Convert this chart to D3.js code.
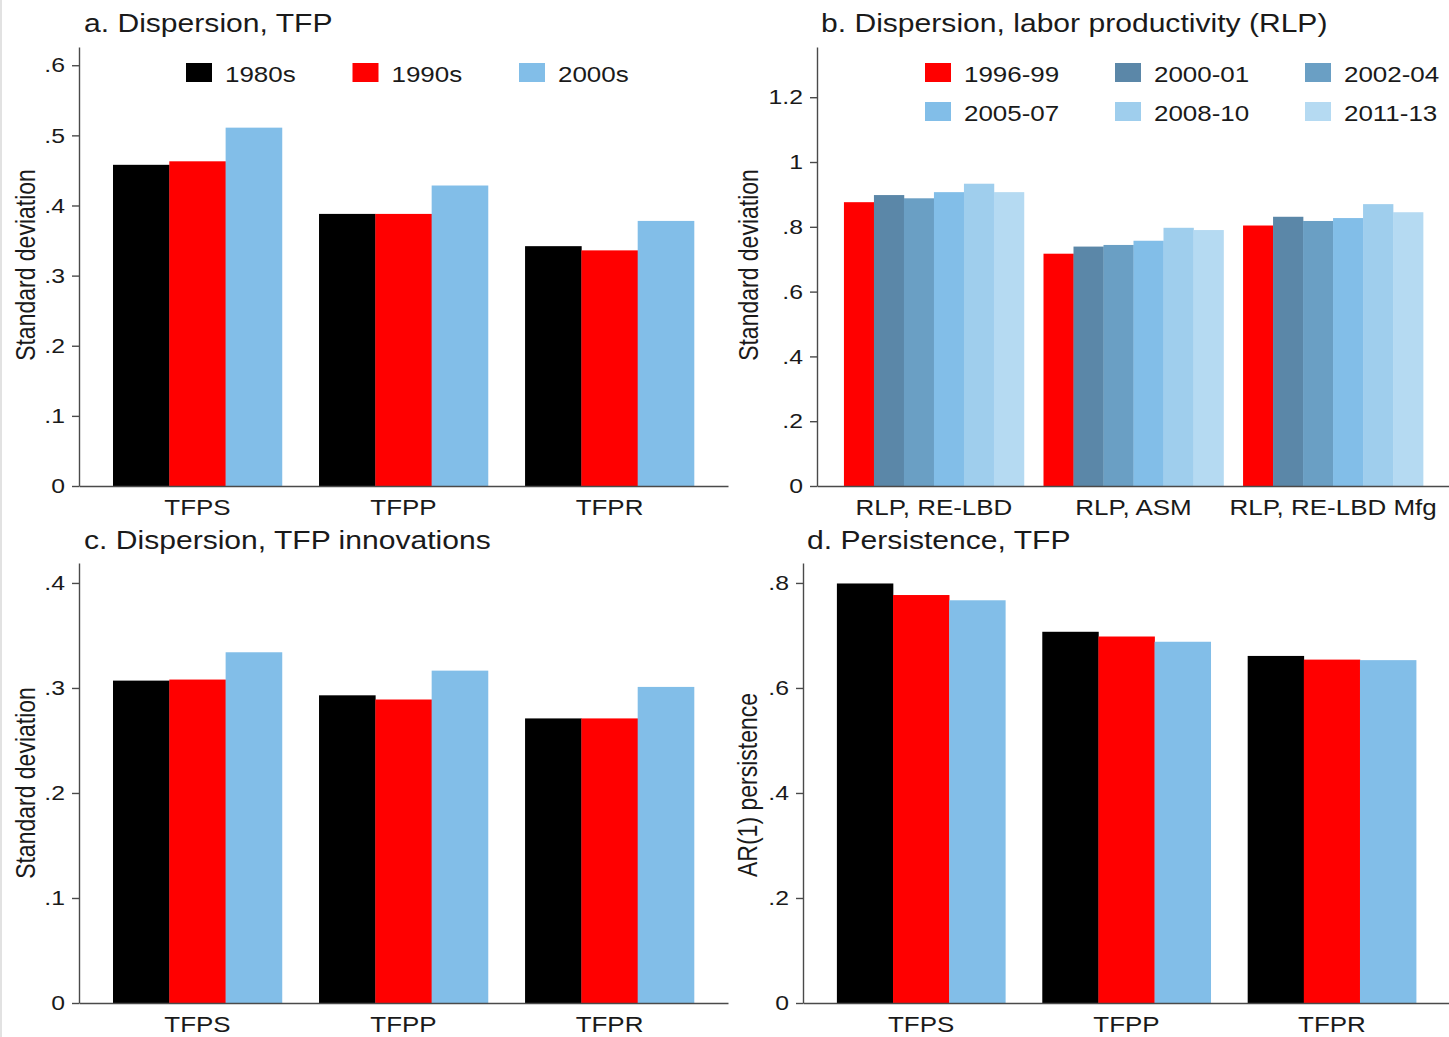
<!DOCTYPE html>
<html>
<head>
<meta charset="utf-8">
<script src="https://cdn.jsdelivr.net/npm/d3@7"></script>
<style>
  body { margin: 0; background: #fff; }
  svg { display: block; font-family: "Liberation Sans", Arial, sans-serif; }
  text { fill: #1a1a1a; }
</style>
</head>
<body>
<svg id="chart" width="1449" height="1037"></svg>
<script>
// categories and series
var tfpCats = ["TFPS", "TFPP", "TFPR"];
var decades = ["1980s", "1990s", "2000s"];
var decadeColors = ["#000000", "#ff0000", "#82bee8"];

var rlpCats = ["RLP, RE-LBD", "RLP, ASM", "RLP, RE-LBD Mfg"];
var periods = ["1996-99", "2000-01", "2002-04", "2005-07", "2008-10", "2011-13"];
var periodColors = ["#ff0000", "#5b87a8", "#6a9fc4", "#82bee8", "#9fceed", "#b5daf2"];

// values: one row per category, one entry per series
var dispersionTFP = [
  [0.458, 0.463, 0.511],
  [0.388, 0.388, 0.4285],
  [0.342, 0.336, 0.378]
];
var dispersionRLP = [
  [0.876, 0.898, 0.888, 0.907, 0.933, 0.907],
  [0.717, 0.739, 0.744, 0.757, 0.797, 0.790],
  [0.804, 0.831, 0.818, 0.827, 0.870, 0.845]
];
var dispersionInnov = [
  [0.307, 0.308, 0.334],
  [0.293, 0.289, 0.3165],
  [0.271, 0.271, 0.301]
];
var persistenceTFP = [
  [0.799, 0.777, 0.767],
  [0.707, 0.698, 0.688],
  [0.661, 0.654, 0.653]
];

// tick values
var ticksA = [0, 0.1, 0.2, 0.3, 0.4, 0.5, 0.6];
var ticksB = [0, 0.2, 0.4, 0.6, 0.8, 1, 1.2];
var ticksC = [0, 0.1, 0.2, 0.3, 0.4];
var ticksD = [0, 0.2, 0.4, 0.6, 0.8];

var SX = 1.18; // the original figure is stretched sideways
var svg = d3.select("#chart");

// faint edge on the left like the source image
svg.append("line").attr("x1", 1).attr("x2", 1).attr("y1", 0).attr("y2", 1037)
  .attr("stroke", "#e2e2e2").attr("stroke-width", 2);

function fmtTick(v) {
  if (v === 0) return "0";
  if (v === 1) return "1";
  return d3.format(".1f")(v).replace(/^0\./, ".");
}

function stretchedText(g, x, y, str, size, anchor) {
  return g.append("text")
    .attr("transform", `translate(${x},${y}) scale(${SX},1)`)
    .attr("text-anchor", anchor || "start")
    .style("font-size", size + "px")
    .text(str);
}

function drawPanel(p) {
  var g = svg.append("g");

  var y = d3.scaleLinear().domain([0, p.yMax]).range([p.yBase, p.yTop]);
  var x = d3.scaleBand().domain(p.cats).range([p.xLeft, p.xRight])
    .paddingInner(p.padIn).paddingOuter(p.padOut);
  var xs = d3.scaleBand().domain(p.series).range([0, x.bandwidth()]);

  // bars
  var groups = g.selectAll(".grp")
    .data(p.values)
    .join("g")
      .attr("class", "grp")
      .attr("transform", (d, i) => `translate(${x(p.cats[i])},0)`);

  groups.selectAll("rect")
    .data(d => d.map((v, j) => ({v: v, s: p.series[j], c: p.colors[j]})))
    .join("rect")
      .attr("x", d => xs(d.s))
      .attr("width", xs.bandwidth() + 0.3)
      .attr("y", d => y(d.v))
      .attr("height", d => y(0) - y(d.v))
      .attr("fill", d => d.c);

  // y axis
  var ya = g.append("g")
    .attr("transform", `translate(${p.xLeft},0)`)
    .call(d3.axisLeft(y).tickValues(p.ticks).tickFormat(fmtTick).tickSize(7).tickSizeOuter(0));
  ya.selectAll("text")
    .attr("x", 0)
    .attr("transform", `translate(-14,0) scale(${SX},1)`)
    .style("font-size", "21px");

  // x axis
  var xa = g.append("g")
    .attr("transform", `translate(0,${p.yBase})`)
    .call(d3.axisBottom(x).tickSize(0).tickSizeOuter(0).tickPadding(13));
  xa.selectAll("text")
    .attr("transform", `scale(${SX},1)`)
    .attr("x", 0)
    .style("font-size", "22px");
  xa.selectAll("text").each(function(d) {
    // keep the label centred under its group after the stretch
    d3.select(this.parentNode).attr("transform", `translate(${x(d) + x.bandwidth() / 2},0)`);
  });

  [ya, xa].forEach(a => {
    a.select(".domain").attr("stroke", "#4a4a4a").attr("stroke-width", 1.4);
    a.selectAll(".tick line").attr("stroke", "#4a4a4a").attr("stroke-width", 1.4);
    a.selectAll("text").attr("fill", "#1a1a1a").style("font-family", "'Liberation Sans', Arial, sans-serif");
  });

  // titles
  stretchedText(g, p.titleX, p.titleY, p.title, 25.5, "start");
  g.append("text")
    .attr("transform", `translate(${p.ylabX},${p.ylabY}) scale(${SX},1) rotate(-90)`)
    .attr("text-anchor", "middle")
    .style("font-size", "23px")
    .text(p.ylab);

  // legend
  if (p.legend) {
    p.series.forEach((s, i) => {
      var col = i % p.legend.cols, row = Math.floor(i / p.legend.cols);
      var lx = p.legend.x + col * p.legend.dx;
      var ly = p.legend.y + row * p.legend.dy;
      g.append("rect")
        .attr("x", lx).attr("y", ly)
        .attr("width", 26).attr("height", 19)
        .attr("fill", p.colors[i]);
      stretchedText(g, lx + 39, ly + 18.5, s, 22, "start");
    });
  }
}

drawPanel({
  title: "a. Dispersion, TFP", titleX: 84, titleY: 32,
  ylab: "Standard deviation", ylabX: 35, ylabY: 265,
  cats: tfpCats, series: decades, colors: decadeColors, values: dispersionTFP,
  xLeft: 79, xRight: 728, padIn: 0.18, padOut: 0.165,
  yBase: 486, yTop: 47, yMax: 0.626, ticks: ticksA,
  legend: {x: 186, y: 63, cols: 3, dx: 166.5, dy: 0}
});

drawPanel({
  title: "b. Dispersion, labor productivity (RLP)", titleX: 821, titleY: 32,
  ylab: "Standard deviation", ylabX: 758, ylabY: 265,
  cats: rlpCats, series: periods, colors: periodColors, values: dispersionRLP,
  xLeft: 817, xRight: 1450, padIn: 0.098, padOut: 0.135,
  yBase: 486, yTop: 47, yMax: 1.355, ticks: ticksB,
  legend: {x: 925, y: 63, cols: 3, dx: 190, dy: 39}
});

drawPanel({
  title: "c. Dispersion, TFP innovations", titleX: 84, titleY: 549,
  ylab: "Standard deviation", ylabX: 35, ylabY: 783,
  cats: tfpCats, series: decades, colors: decadeColors, values: dispersionInnov,
  xLeft: 79, xRight: 728, padIn: 0.18, padOut: 0.165,
  yBase: 1003, yTop: 563, yMax: 0.419, ticks: ticksC
});

drawPanel({
  title: "d. Persistence, TFP", titleX: 807, titleY: 549,
  ylab: "AR(1) persistence", ylabX: 757, ylabY: 785,
  cats: tfpCats, series: decades, colors: decadeColors, values: persistenceTFP,
  xLeft: 803, xRight: 1450, padIn: 0.18, padOut: 0.165,
  yBase: 1003, yTop: 563, yMax: 0.838, ticks: ticksD
});
</script>
</body>
</html>
